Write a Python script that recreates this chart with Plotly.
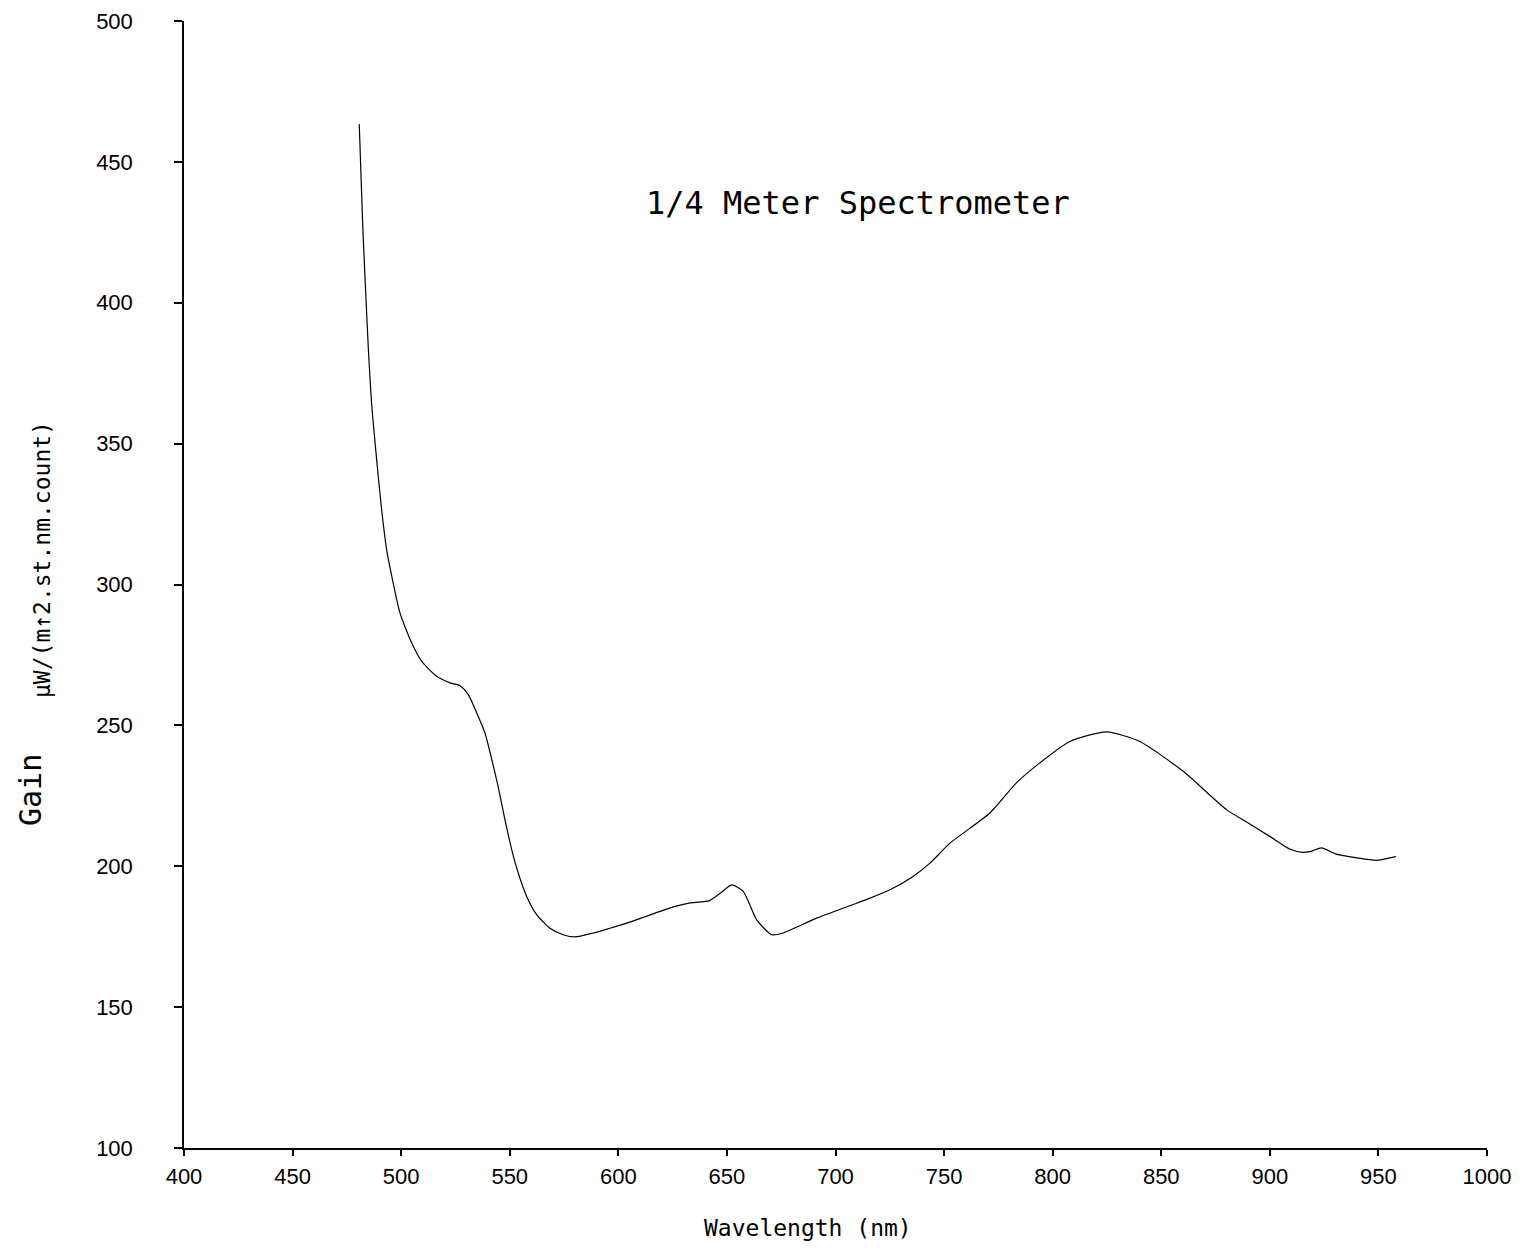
import plotly.graph_objects as go

# Data
wavelength_nm = [480.7, 482.3, 484.9, 486.4, 488.7, 491.0, 493.3, 496.8, 499.4, 504.8,
                 509.4, 516.3, 522.5, 527.1, 530.9, 534.8, 538.6, 541.0, 544.3, 547.8,
                 550.9, 553.9, 557.8, 562.4, 568.5, 574.6, 580.0, 588.4, 596.1, 603.8,
                 612.0, 622.2, 632.0, 642.2, 647.0, 652.2, 657.5, 663.7, 670.6, 675.9,
                 691.3, 706.6, 715.0, 725.8, 735.0, 743.5, 752.7, 771.1, 783.3, 794.1,
                 807.9, 824.8, 840.1, 860.1, 880.0, 890.8, 900.0, 909.2, 915.2, 919.0,
                 923.8, 930.7, 940.0, 949.0, 958.0]
gain = [463.4, 427.3, 383.5, 364.0, 344.4, 326.6, 312.4, 298.8, 290.0, 279.3,
        272.8, 267.4, 265.1, 264.1, 260.9, 254.4, 247.3, 240.2, 229.5, 216.5,
        205.9, 197.6, 189.3, 182.8, 178.0, 175.7, 174.9, 176.3, 178.0, 179.8,
        182.0, 184.8, 186.8, 187.9, 190.5, 193.4, 191.1, 181.0, 175.7, 176.3,
        181.6, 186.0, 188.4, 191.9, 196.0, 201.1, 208.2, 218.9, 229.6, 236.7,
        244.3, 247.7, 244.3, 233.7, 220.1, 215.0, 210.6, 206.1, 204.9, 205.3,
        206.5, 204.3, 203.0, 202.1, 203.4]

x_ticks = [400, 450, 500, 550, 600, 650, 700, 750, 800, 850, 900, 950, 1000]
y_ticks = [100, 150, 200, 250, 300, 350, 400, 450, 500]

title_text = "1/4 Meter Spectrometer"
x_title = "Wavelength (nm)"
y_title_gain = "Gain"
y_title_units = "μW/(m↑2.st.nm.count)"

W, H = 1529, 1248
OFF = 8  # page body offset
# target plot area in screen pixels
PX_L, PX_R, PX_T, PX_B = 184, 1487, 21, 1148
plot_w = PX_R - PX_L
plot_h = PX_B - PX_T
L = PX_L - OFF
T = PX_T - OFF
R = W - L - plot_w
B = H - T - plot_h

fig = go.Figure()
fig.add_trace(go.Scatter(
    x=wavelength_nm, y=gain, mode="lines",
    line=dict(color="black", width=1.2, shape="spline", smoothing=0.6),
    showlegend=False, hoverinfo="x+y",
))

tick_font = dict(family="Liberation Sans, Arial, sans-serif", size=22, color="black")
mono = "DejaVu Sans Mono, Liberation Mono, monospace"


def px_x(px):
    return (px - PX_L) / plot_w


def px_y(py):
    return (PX_B - py) / plot_h


fig.update_layout(
    width=W, height=H,
    margin=dict(l=L, r=R, t=T, b=B, autoexpand=False),
    paper_bgcolor="white", plot_bgcolor="white",
    xaxis=dict(
        range=[400, 1000], tickvals=x_ticks, ticktext=[str(v) for v in x_ticks],
        showgrid=False, zeroline=False, showline=True, linecolor="black", linewidth=1.5,
        ticks="outside", ticklen=6, tickwidth=1.5, tickcolor="black",
        tickfont=tick_font, automargin=False, ticklabelstandoff=2,
    ),
    yaxis=dict(
        range=[100, 500], tickvals=y_ticks, ticktext=[str(v) for v in y_ticks],
        showgrid=False, zeroline=False, showline=True, linecolor="black", linewidth=1.5,
        ticks="outside", ticklen=8, tickwidth=1.5, tickcolor="black",
        tickfont=tick_font, ticklabelstandoff=37, automargin=False,
    ),
    annotations=[
        dict(text=title_text, x=px_x(858), y=px_y(203), xref="paper", yref="paper",
             showarrow=False, font=dict(family=mono, size=32, color="black"),
             xanchor="center", yanchor="middle"),
        dict(text=x_title, x=px_x(808), y=px_y(1228),
             xref="paper", yref="paper", showarrow=False,
             font=dict(family=mono, size=23, color="black"),
             xanchor="center", yanchor="middle"),
        dict(text=y_title_gain, x=px_x(30), y=px_y(790),
             xref="paper", yref="paper", showarrow=False, textangle=-90,
             font=dict(family=mono, size=30, color="black"),
             xanchor="center", yanchor="middle"),
        dict(text=y_title_units, x=px_x(42), y=px_y(560),
             xref="paper", yref="paper", showarrow=False, textangle=-90,
             font=dict(family=mono, size=23, color="black"),
             xanchor="center", yanchor="middle"),
    ],
)

fig.write_html("out.html")
